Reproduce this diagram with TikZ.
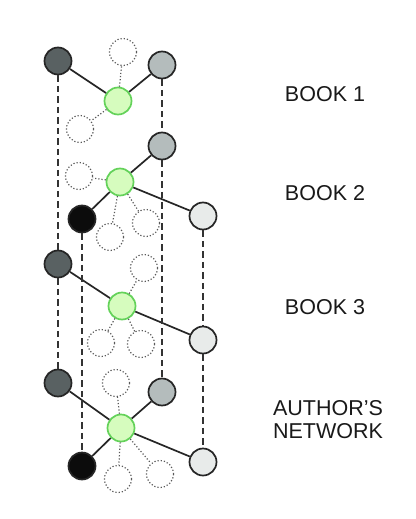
\documentclass[tikz,border=0pt]{standalone}
\usepackage{fontspec}
\setmainfont{Liberation Sans}
\usetikzlibrary{positioning}
\definecolor{darkmember}{RGB}{89,97,98}
\definecolor{midmember}{RGB}{180,188,188}
\definecolor{palemember}{RGB}{232,235,234}
\definecolor{blackmember}{RGB}{12,12,12}
\definecolor{hubfill}{RGB}{214,252,190}
\definecolor{hubline}{RGB}{100,210,90}

\begin{document}
\begin{tikzpicture}[x=1pt,y=-1pt,
  member/.style={circle, draw=black!85, line width=1.7pt, minimum size=27pt, inner sep=0pt},
  ghost/.style={circle, draw=black!65, line width=1.2pt, dash pattern=on 1.2pt off 2pt, minimum size=27pt, inner sep=0pt},
  hub/.style={member, draw=hubline, fill=hubfill},
  tie/.style={line width=1.7pt, black!85},
  ghosttie/.style={line width=1.2pt, black!65, dash pattern=on 1.2pt off 2pt},
  link/.style={line width=1.4pt, black!80, dash pattern=on 6.5pt off 4pt},
  booklabel/.style={font=\fontsize{21.5}{23}\selectfont, align=center, text=black!90}]
  \useasboundingbox (0,0) rectangle (415,519);

  % book 1
  \node[member, fill=darkmember] (b1dark) at (58,61) {};
  \node[member, fill=midmember] (b1mid) at (162,65) {};
  \node[hub] (b1hub) at (118,101) {};
  \node[ghost] (b1ghostA) at (123,52) {};
  \node[ghost] (b1ghostB) at (80,129) {};
  \draw[tie] (b1hub) -- (b1dark);
  \draw[tie] (b1hub) -- (b1mid);
  \draw[ghosttie] (b1hub) -- (b1ghostA);
  \draw[ghosttie] (b1hub) -- (b1ghostB);
  \node[booklabel] (book1) at (325,94) {BOOK 1};

  % book 2
  \node[member, fill=midmember] (b2mid) at (162,146) {};
  \node[hub] (b2hub) at (120,182) {};
  \node[member, fill=blackmember] (b2black) at (82,219) {};
  \node[member, fill=palemember] (b2pale) at (203,216) {};
  \node[ghost] (b2ghostA) at (79,176) {};
  \node[ghost] (b2ghostB) at (110,237) {};
  \node[ghost] (b2ghostC) at (146,223) {};
  \draw[tie] (b2hub) -- (b2mid);
  \draw[tie] (b2hub) -- (b2black);
  \draw[tie] (b2hub) -- (b2pale);
  \draw[ghosttie] (b2hub) -- (b2ghostA);
  \draw[ghosttie] (b2hub) -- (b2ghostB);
  \draw[ghosttie] (b2hub) -- (b2ghostC);
  \node[booklabel] (book2) at (325,193) {BOOK 2};

  % book 3
  \node[member, fill=darkmember] (b3dark) at (58,264) {};
  \node[hub] (b3hub) at (122,306) {};
  \node[member, fill=palemember] (b3pale) at (203,340) {};
  \node[ghost] (b3ghostA) at (144,268) {};
  \node[ghost] (b3ghostB) at (101,343) {};
  \node[ghost] (b3ghostC) at (141,344) {};
  \draw[tie] (b3hub) -- (b3dark);
  \draw[tie] (b3hub) -- (b3pale);
  \draw[ghosttie] (b3hub) -- (b3ghostA);
  \draw[ghosttie] (b3hub) -- (b3ghostB);
  \draw[ghosttie] (b3hub) -- (b3ghostC);
  \node[booklabel] (book3) at (325,307) {BOOK 3};

  % author's network
  \node[member, fill=darkmember] (andark) at (58,383) {};
  \node[member, fill=midmember] (anmid) at (162,392) {};
  \node[hub] (anhub) at (121,428) {};
  \node[member, fill=blackmember] (anblack) at (82,466) {};
  \node[member, fill=palemember] (anpale) at (203,462) {};
  \node[ghost] (anghostA) at (116,383) {};
  \node[ghost] (anghostB) at (118,479) {};
  \node[ghost] (anghostC) at (160,474) {};
  \draw[tie] (anhub) -- (andark);
  \draw[tie] (anhub) -- (anmid);
  \draw[tie] (anhub) -- (anblack);
  \draw[tie] (anhub) -- (anpale);
  \draw[ghosttie] (anhub) -- (anghostA);
  \draw[ghosttie] (anhub) -- (anghostB);
  \draw[ghosttie] (anhub) -- (anghostC);
  \node[booklabel] (network) at (328,420) {AUTHOR’S\\NETWORK};

  % same member across layers
  \draw[link] (b1dark) -- (b3dark);
  \draw[link] (b3dark) -- (andark);
  \draw[link] (b2black) -- (anblack);
  \draw[link] (b1mid) -- (b2mid);
  \draw[link] (b2mid) -- (anmid);
  \draw[link] (b2pale) -- (b3pale);
  \draw[link] (b3pale) -- (anpale);
\end{tikzpicture}
\end{document}
